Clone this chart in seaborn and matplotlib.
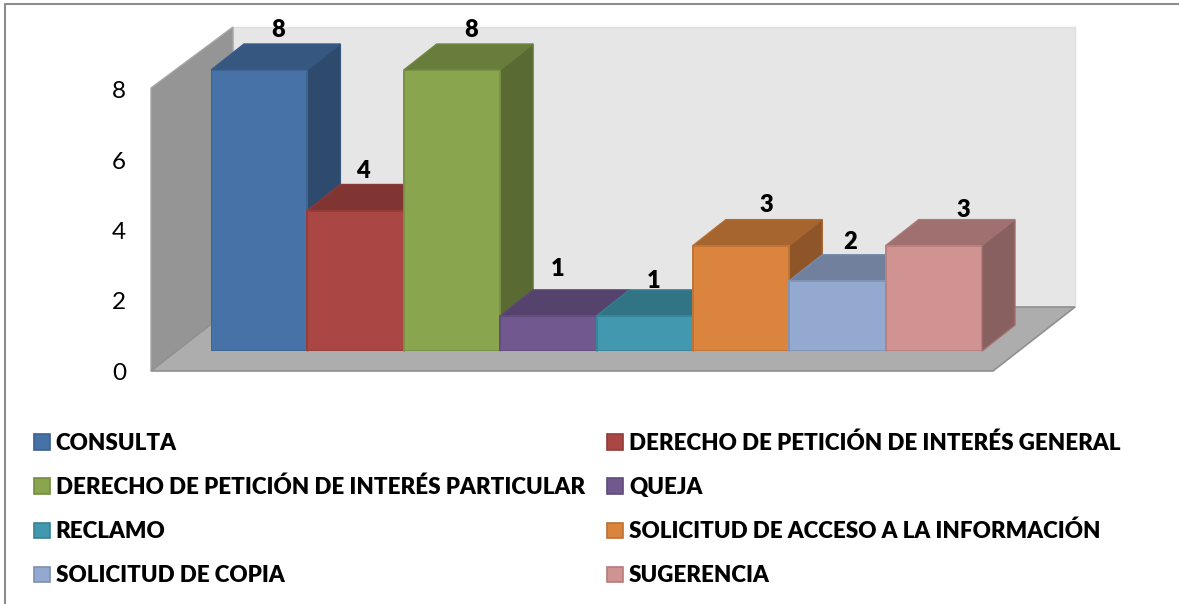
import matplotlib
matplotlib.use("Agg")
import matplotlib.pyplot as plt
import matplotlib.colors as mcolors
from matplotlib.lines import Line2D
from matplotlib.patches import Polygon
import pandas as pd
import seaborn as sns

# data
categorias = ["CONSULTA", "DERECHO DE PETICIÓN DE INTERÉS GENERAL",
              "DERECHO DE PETICIÓN DE INTERÉS PARTICULAR", "QUEJA", "RECLAMO",
              "SOLICITUD DE ACCESO A LA INFORMACIÓN", "SOLICITUD DE COPIA", "SUGERENCIA"]
valores = [8, 4, 8, 1, 1, 3, 2, 3]
ticks_y = [0, 2, 4, 6, 8]

colores = ["#4672A8", "#AA4643", "#89A54E", "#71588F", "#4198AF", "#DB843D", "#93A9CF", "#D19392"]
# where each value label sits relative to the bar centre top, in pixels
label_dx = [19, 7, 19, 9, 9, 25, 13, 29]
label_dy = [40, 40, 40, 47, 35, 41, 39, 36]

W, H = 1179, 604
FONT = "Lato"


def caja(x0, y_top, x1, y_bottom):
    # figure fraction box from pixel edges
    return [x0 / W, 1 - y_bottom / H, (x1 - x0) / W, (y_bottom - y_top) / H]


def oscuro(color, k):
    r, g, b = mcolors.to_rgb(color)
    return (r * k, g * k, b * k)


sns.set_theme(style="white")
plt.rcParams["font.family"] = [FONT, "DejaVu Sans"]

fig = plt.figure(figsize=(W / 100, H / 100), dpi=100, facecolor="white")

# walls and floor, in pixels of the picture
fondo = fig.add_axes([0, 0, 1, 1], zorder=0)
fondo.set_xlim(0, W)
fondo.set_ylim(H, 0)
fondo.axis("off")
fondo.add_patch(Polygon([(233, 27), (1075, 27), (1075, 307), (233, 307)], fc="#E6E6E6", ec="#DEDEDE", lw=1))
fondo.add_patch(Polygon([(151, 88), (233, 27), (233, 307), (151, 371)], fc="#959595", ec="#A6A6A6", lw=1))
fondo.add_patch(Polygon([(151, 371), (993, 371), (1075, 307), (233, 307)], fc="#ADADAD", ec="#8F8F8F", lw=1.2))
# chart border, only top and left are in the picture
fig.add_artist(Line2D([5 / W, 5 / W, 1], [0, 1 - 3.5 / H, 1 - 3.5 / H], color="#8C8C8C", lw=1.5))

# y axis on the front edge of the left wall
eje = fig.add_axes(caja(151, 90, 993, 371), zorder=1)
eje.patch.set_alpha(0)
eje.set_ylim(0, 8)
eje.set_yticks(ticks_y)
eje.set_xticks([])
sns.despine(ax=eje, left=True, bottom=True)
eje.tick_params(axis="y", length=0, pad=18, labelsize=17.5, colors="black")

# front of the bars
ax = fig.add_axes(caja(211, 70, 982, 351), zorder=2)
df = pd.DataFrame({"tipo": categorias, "total": valores})
sns.barplot(data=df, x="tipo", y="total", hue="tipo", palette=colores, hue_order=categorias,
            width=1, dodge=False, saturation=1, legend=True, ax=ax)
ax.set_xlim(-0.5, 7.5)
ax.set_ylim(0, 8)
ax.axis("off")

# depth of the boxes
prof_x = 33 / (771 / 8)
prof_y = 26 / (281 / 8)
barras = sorted([p for p in ax.patches if p.get_height() > 0], key=lambda p: p.get_x())
for p, c, v, dx, dy in zip(barras, colores, valores, label_dx, label_dy):
    x0, x1, h = p.get_x(), p.get_x() + p.get_width(), p.get_height()
    borde = oscuro(c, 0.88)
    p.set_edgecolor(borde)
    p.set_linewidth(1.4)
    p.set_zorder(3)
    ax.add_patch(Polygon([(x0, h), (x1, h), (x1 + prof_x, h + prof_y), (x0 + prof_x, h + prof_y)],
                         fc=oscuro(c, 0.76), ec=oscuro(c, 0.82), lw=1, zorder=2, clip_on=False))
    ax.add_patch(Polygon([(x1, 0), (x1, h), (x1 + prof_x, h + prof_y), (x1 + prof_x, prof_y)],
                         fc=oscuro(c, 0.65), ec=oscuro(c, 0.76), lw=1, zorder=2, clip_on=False))
    ax.annotate(str(v), xy=(x0 + 0.5, h), xytext=(dx * 0.72, dy * 0.72), textcoords="offset points",
                ha="center", va="center", fontsize=17, fontweight="heavy", color="black",
                annotation_clip=False, zorder=5)

# legend goes row by row in the picture, matplotlib fills by column
vieja = ax.get_legend()
handles = list(vieja.legend_handles)
labels = [t.get_text() for t in vieja.get_texts()]
vieja.remove()
orden = [0, 2, 4, 6, 1, 3, 5, 7]
for h, c in zip(handles, colores):
    h.set_edgecolor(oscuro(c, 0.85))
    h.set_linewidth(1.2)
fs = 16.15
ley = ax.legend([handles[i] for i in orden], [labels[i] for i in orden], ncol=2, frameon=False,
                loc="upper left", bbox_to_anchor=(34 / W, 1 - 432 / H), bbox_transform=fig.transFigure,
                borderpad=0, borderaxespad=0, handlelength=0.7, handleheight=0.7, handletextpad=0.27,
                columnspacing=1.0, labelspacing=1.03, labelcolor="black",
                prop={"family": FONT, "weight": "heavy", "size": fs})

fig.savefig("out.png", dpi=100)
